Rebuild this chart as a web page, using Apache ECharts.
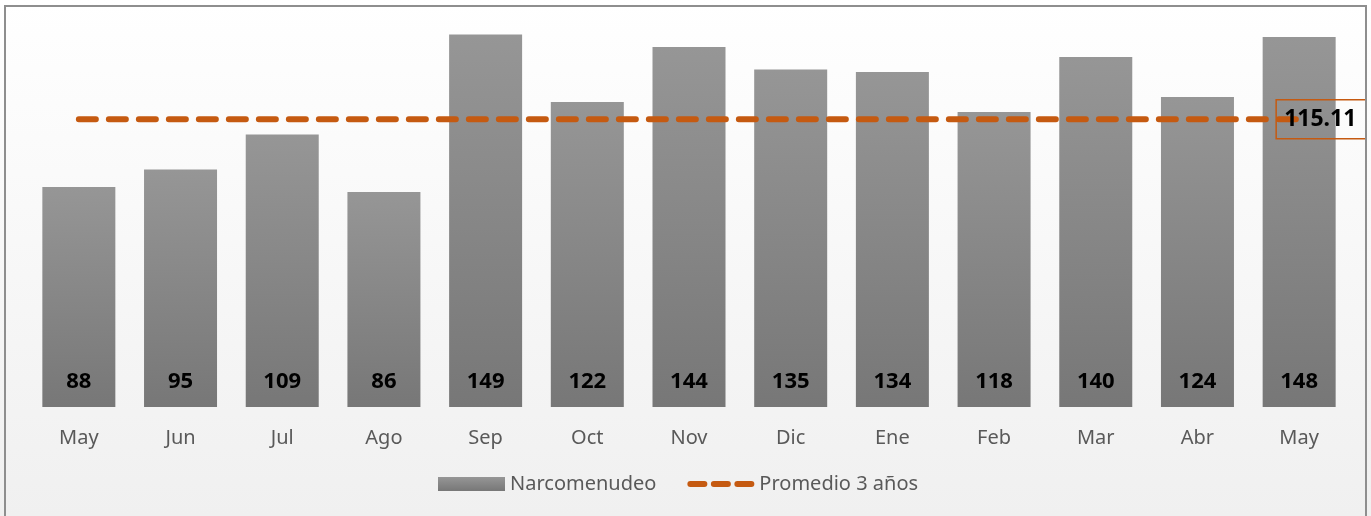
<!DOCTYPE html>
<html><head><meta charset="utf-8">
<script src="https://cdn.jsdelivr.net/npm/echarts@6/dist/echarts.min.js"></script>
<style>html,body{margin:0;padding:0;background:#fff}#c{width:1371px;height:516px}</style>
</head><body><div id="c"></div>
<script>
const categories = ['May','Jun','Jul','Ago','Sep','Oct','Nov','Dic','Ene','Feb','Mar','Abr','May'];
const narcomenudeo = [88,95,109,86,149,122,144,135,134,118,140,124,148];
const promedioValue = 115.11;
const promedio = categories.map(() => promedioValue);

const chart = echarts.init(document.getElementById('c'));
const font = '"Noto Sans", "Open Sans", sans-serif';
const dash = (x) => `M${x+3},4 h14 a3,3 0 0 1 0,6 h-14 a3,3 0 0 1 0,-6 z`;
const lineIcon = 'path://M0,0 M67,14 ' + dash(0) + ' ' + dash(23.5) + ' ' + dash(47);
chart.setOption({
  animation: false,
  backgroundColor: {type:'linear',x:0,y:0,x2:0,y2:1,colorStops:[{offset:0,color:'#ffffff'},{offset:1,color:'#f0f0f0'}]},
  graphic: [{type:'rect', shape:{x:5,y:6,width:1361,height:520}, style:{fill:'none',stroke:'#8e8e8e',lineWidth:2}, z:100}],
  grid: {left:28, right:21, top:32, bottom:109},
  legend: {
    bottom: 17, left: 433, itemWidth: 67, itemHeight: 14, itemGap: 31,
    textStyle: {color:'#595959', fontSize:20, fontFamily:font},
    data: [{name:'Narcomenudeo', icon:'rect'}, {name:'Promedio 3 años', icon: lineIcon}]
  },
  xAxis: {
    type:'category', data: categories,
    axisLine:{show:false}, axisTick:{show:false},
    axisLabel:{color:'#595959', fontSize:20, fontFamily:font, margin:21}
  },
  yAxis: {type:'value', min:0, max:150, show:false, splitLine:{show:false}},
  series: [
    {
      name:'Narcomenudeo', type:'bar', data: narcomenudeo, barWidth: 73,
      itemStyle: {color:{type:'linear',x:0,y:0,x2:0,y2:1,colorStops:[{offset:0,color:'#969696'},{offset:1,color:'#777777'}]}},
      label: {show:true, position:'insideBottom', distance:14, color:'#000', fontWeight:'bold', fontSize:22, fontFamily:font}
    },
    {
      name:'Promedio 3 años', type:'line', data: promedio, symbol:'none', z:5,
      lineStyle:{color:'#C55A11', width:6, type:[17,13], cap:'round'},
      itemStyle:{color:'#C55A11'},
      endLabel: {show:true, formatter: () => promedioValue.toFixed(2), offset:[-31,0], color:'#000', fontWeight:'bold', fontSize:23, fontFamily:font,
        borderColor:'#C55A11', borderWidth:1.5, padding:[8,4,8,8], width: 78}
    }
  ]
});
</script></body></html>
